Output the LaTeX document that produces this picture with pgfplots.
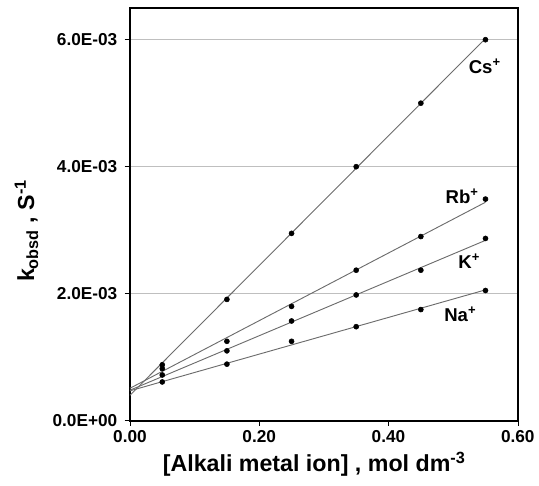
\documentclass[border=0pt]{standalone}
\usepackage{fontspec}
\setmainfont{Liberation Sans}
\usepackage{pgfplots}
\pgfplotsset{compat=1.18}

% rate constants in units of 1E-03 s^-1
\pgfplotstableread{
x     cs    rb    k     na
0.05  0.88  0.82  0.72  0.61
0.15  1.91  1.25  1.10  0.89
0.25  2.95  1.80  1.57  1.25
0.35  4.00  2.37  1.98  1.48
0.45  5.00  2.90  2.37  1.75
0.55  6.00  3.49  2.87  2.05
}\kdata

\begin{document}
\begin{tikzpicture}
\begin{axis}[
  width=292.5pt, height=311.25pt, scale only axis,
  xmin=0, xmax=0.6, ymin=0, ymax=6.5,
  xtick={0,0.2,0.4,0.6}, xticklabels={0.00,0.20,0.40,0.60},
  ytick={0,2,4,6}, yticklabels={0.0E+00,2.0E-03,4.0E-03,6.0E-03},
  ticklabel style={font=\fontsize{13}{15}\selectfont\bfseries},
  yticklabel style={xshift=-2pt},
  tick align=outside, major tick length=4pt,
  tick style={black, thin},
  xtick pos=bottom, ytick pos=left,
  ymajorgrids, grid style={gray!50, line width=0.8pt},
  axis line style={black, line width=1.5pt},
  xlabel={[Alkali metal ion] , mol dm\textsuperscript{-3}},
  ylabel={k\textsubscript{obsd} , S\textsuperscript{-1}},
  label style={font=\fontsize{17.5}{20}\selectfont\bfseries},
  xlabel style={at={(ticklabel cs:0.475)}},
  ylabel style={at={(ticklabel cs:0.46)}},
  ylabel shift=4pt,
  clip=false,
]
% fitted lines
\addplot[gray!85!black, line width=0.7pt] coordinates {(0,0.40) (0.55,6.02)};
\addplot[gray!85!black, line width=0.7pt] coordinates {(0,0.51) (0.55,3.44)};
\addplot[gray!85!black, line width=0.7pt] coordinates {(0,0.48) (0.55,2.84)};
\addplot[gray!85!black, line width=0.7pt] coordinates {(0,0.47) (0.55,2.06)};
% measured points
\addplot[only marks, mark=*, mark size=1.9pt, black] table[x=x, y=cs] {\kdata};
\addplot[only marks, mark=*, mark size=1.9pt, black] table[x=x, y=rb] {\kdata};
\addplot[only marks, mark=*, mark size=1.9pt, black] table[x=x, y=k] {\kdata};
\addplot[only marks, mark=*, mark size=1.9pt, black] table[x=x, y=na] {\kdata};
% ion labels
\begin{scope}[every node/.style={font=\fontsize{14}{16}\selectfont\bfseries}]
\node at (axis cs:0.549,5.58) {Cs\textsuperscript{+}};
\node at (axis cs:0.514,3.54) {Rb\textsuperscript{+}};
\node at (axis cs:0.525,2.51) {K\textsuperscript{+}};
\node at (axis cs:0.511,1.68) {Na\textsuperscript{+}};
\end{scope}
\end{axis}
\path (current axis.south west) ++(-98pt,-48.75pt);
\path (current axis.north east) ++(13.5pt,6pt);
\end{tikzpicture}
\end{document}
